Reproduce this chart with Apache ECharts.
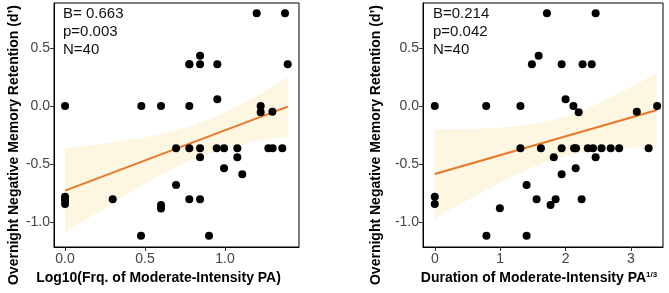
<!DOCTYPE html>
<html>
<head>
<meta charset="utf-8">
<script src="https://cdn.jsdelivr.net/npm/echarts@6/dist/echarts.min.js"></script>
<style>
  html, body { margin: 0; padding: 0; background: #fff; }
  #chart { width: 669px; height: 293px; }
</style>
</head>
<body>
<div id="chart"></div>
<script>
// left panel: log10 frequency vs retention
const freqX = [1.198, 1.375, 0.777, 0.844, 0.952, 1.392, 0.844, 0, 0.477, 0.6, 0.777, 1.223, 0.952, 1.223, 1.296,
  0.694, 0.777, 0.844, 0.948, 0.994, 1.077, 1.271, 1.298, 1.358, 0.844, 1.077, 0.994, 1.108, 0.694,
  0, 0, 0, 0.298, 0.777, 0.844, 0.6, 0.6, 0.475, 0.9, 0.777]
const freqY = [0.80, 0.80, 0.36, 0.36, 0.36, 0.36, 0.434, 0, 0, 0, 0, 0, 0.058, -0.055, -0.05,
  -0.365, -0.365, -0.365, -0.365, -0.365, -0.365, -0.365, -0.365, -0.365, -0.443, -0.443, -0.537, -0.589, -0.681,
  -0.782, -0.81, -0.845, -0.804, -0.804, -0.804, -0.853, -0.884, -1.118, -1.118, 0.36]

// right panel: duration^(1/3) vs retention
const durX = [1.715, 2.46, 1.485, 1.94, 2.26, 2.40, 1.588, 0, 0.786, 1.31, 2.12, 3.40, 2.0, 2.2, 3.09,
  1.31, 1.623, 1.94, 2.13, 2.16, 2.34, 2.42, 2.55, 2.69, 2.82, 3.27, 1.82, 2.46, 2.155, 1.94, 1.404,
  1.557, 1.848, 2.246, 1.77, 0.995, 0, 0, 0.79, 1.404]
const durY = [0.80, 0.80, 0.36, 0.36, 0.36, 0.36, 0.434, 0, 0, 0, 0, 0, 0.058, -0.055, -0.05,
  -0.365, -0.365, -0.365, -0.365, -0.365, -0.365, -0.365, -0.365, -0.365, -0.365, -0.365, -0.443, -0.443, -0.537, -0.589, -0.681,
  -0.804, -0.804, -0.804, -0.853, -0.882, -0.782, -0.845, -1.118, -1.118]

// fitted lines and confidence bands
const freqFitX = [0, 1.392]
const freqFitY = [-0.73, -0.006]
const freqBandX = [0, 0.1, 0.2, 0.3, 0.4, 0.5, 0.6, 0.7, 0.8, 0.9, 1.0, 1.1, 1.2, 1.3, 1.392]
const freqBandLow = [-1.094, -1.005, -0.92, -0.834, -0.752, -0.671, -0.594, -0.523, -0.461, -0.409, -0.365, -0.33, -0.303, -0.28, -0.26]
const freqBandHigh = [-0.366, -0.349, -0.332, -0.313, -0.292, -0.269, -0.242, -0.209, -0.167, -0.115, -0.055, 0.015, 0.091, 0.168, 0.246]

const durFitX = [0, 3.40]
const durFitY = [-0.586, -0.034]
const durBandX = [0, 0.25, 0.5, 0.75, 1.0, 1.25, 1.5, 1.75, 2.0, 2.25, 2.5, 2.75, 3.0, 3.2, 3.40]
const durBandLow = [-0.972, -0.89, -0.812, -0.735, -0.661, -0.592, -0.528, -0.474, -0.432, -0.402, -0.381, -0.368, -0.359, -0.356, -0.354]
const durBandHigh = [-0.20, -0.2, -0.198, -0.194, -0.187, -0.175, -0.156, -0.128, -0.09, -0.039, 0.021, 0.09, 0.163, 0.224, 0.286]

const yTicks = [-1.0, -0.5, 0.0, 0.5]
const freqTicks = [0, 0.5, 1.0]
const durTicks = [0, 1, 2, 3]

const FONT = 'Liberation Sans, Arial, sans-serif'
const ORANGE = '#e8772a'
const BAND = '#fdf6e0'

const chart = echarts.init(document.getElementById('chart'))

function zip(xs, ys) {
  return xs.map((x, i) => [x, ys[i]])
}

function bandSeries(idx, xs, low, high) {
  return {
    type: 'custom',
    xAxisIndex: idx,
    yAxisIndex: idx,
    silent: true,
    z: 1,
    data: xs.map((x, i) => [x, low[i], high[i]]),
    renderItem: (params, api) => {
      if (params.dataIndex !== 0) return
      const pts = []
      xs.forEach((x, i) => pts.push(api.coord([x, high[i]])))
      for (let i = xs.length - 1; i >= 0; i--) pts.push(api.coord([xs[i], low[i]]))
      return { type: 'polygon', shape: { points: pts }, style: { fill: BAND } }
    }
  }
}

function xAxis(idx, min, max, ticks, name, fmt, shift) {
  return {
    type: 'value',
    gridIndex: idx,
    min, max,
    name,
    nameLocation: 'middle',
    nameGap: 21,
    nameTextStyle: { fontFamily: FONT, fontSize: 14, fontWeight: 'bold', color: '#000', padding: [0, shift, 0, 0],
      rich: { sup: { fontFamily: FONT, fontSize: 8, fontWeight: 'bold', verticalAlign: 'top', padding: [0, 0, 6, 0] } } },
    axisLine: { show: true, onZero: false, lineStyle: { color: '#000', width: 1 } },
    axisTick: { show: true, length: 4, lineStyle: { color: '#333' }, customValues: ticks },
    axisLabel: { fontFamily: FONT, fontSize: 14, color: '#444', margin: 5, customValues: ticks, formatter: fmt },
    splitLine: { show: false }
  }
}

function yAxis(idx) {
  return {
    type: 'value',
    gridIndex: idx,
    min: -1.216, max: 0.888,
    axisLine: { show: true, onZero: false, lineStyle: { color: '#000', width: 1 } },
    axisTick: { show: true, length: 4, lineStyle: { color: '#333' }, customValues: yTicks },
    axisLabel: { fontFamily: FONT, fontSize: 14, color: '#444', margin: 4, customValues: yTicks,
      formatter: v => v.toFixed(1) },
    splitLine: { show: false }
  }
}

const yName = 'Overnight Negative Memory Retention (d\u2019)'

chart.setOption({
  animation: false,
  grid: [
    { left: 54, top: 3, width: 245, height: 244, show: true, borderColor: '#000', borderWidth: 1 },
    { left: 423, top: 3, width: 240, height: 244, show: true, borderColor: '#000', borderWidth: 1 }
  ],
  xAxis: [
    xAxis(0, -0.069, 1.4625, freqTicks, 'Log10(Frq. of Moderate-Intensity PA)', v => v.toFixed(1), 36),
    xAxis(1, -0.18, 3.49, durTicks, 'Duration of Moderate-Intensity PA{sup|1/3}', v => String(v), 8)
  ],
  yAxis: [yAxis(0), yAxis(1)],
  graphic: [
    { type: 'text', left: 63, top: 5, style: { text: 'B= 0.663\np=0.003\nN=40', font: '15px ' + FONT, fill: '#111', lineHeight: 18 } },
    { type: 'text', left: 433, top: 5, style: { text: 'B=0.214\np=0.042\nN=40', font: '15px ' + FONT, fill: '#111', lineHeight: 18 } },
    { type: 'text', x: 14, y: 145, rotation: Math.PI / 2,
      style: { text: yName, font: 'bold 14px ' + FONT, fill: '#000', align: 'center', verticalAlign: 'middle' } },
    { type: 'text', x: 376, y: 145, rotation: Math.PI / 2,
      style: { text: yName, font: 'bold 14px ' + FONT, fill: '#000', align: 'center', verticalAlign: 'middle' } }
  ],
  series: [
    bandSeries(0, freqBandX, freqBandLow, freqBandHigh),
    bandSeries(1, durBandX, durBandLow, durBandHigh),
    {
      type: 'line', xAxisIndex: 0, yAxisIndex: 0, data: zip(freqFitX, freqFitY),
      showSymbol: false, z: 2, lineStyle: { color: ORANGE, width: 2 }
    },
    {
      type: 'line', xAxisIndex: 1, yAxisIndex: 1, data: zip(durFitX, durFitY),
      showSymbol: false, z: 2, lineStyle: { color: ORANGE, width: 2 }
    },
    {
      type: 'scatter', xAxisIndex: 0, yAxisIndex: 0, data: zip(freqX, freqY),
      symbolSize: 8, z: 3, itemStyle: { color: '#000', opacity: 1 }
    },
    {
      type: 'scatter', xAxisIndex: 1, yAxisIndex: 1, data: zip(durX, durY),
      symbolSize: 8, z: 3, itemStyle: { color: '#000', opacity: 1 }
    }
  ]
})
</script>
</body>
</html>
